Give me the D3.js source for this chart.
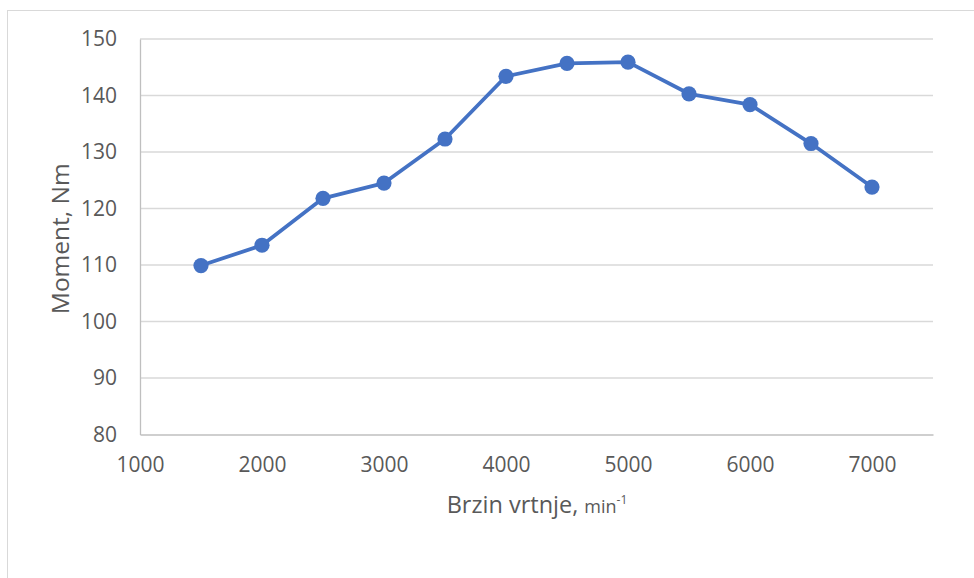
<!DOCTYPE html>
<html>
<head>
<meta charset="utf-8">
<script src="https://cdn.jsdelivr.net/npm/d3@7"></script>
<style>
  html, body { margin: 0; padding: 0; background: #fff; }
  svg { display: block; }
  text { font-family: "Open Sans", sans-serif; fill: #595959; }
</style>
</head>
<body>
<svg id="chart" width="974" height="578"></svg>
<script>
// Torque curve of the engine: speed (min^-1) vs. moment (Nm)
const speeds  = [1500, 2000, 2500, 3000, 3500, 4000, 4500, 5000, 5500, 6000, 6500, 7000];
const moments = [109.9, 113.5, 121.8, 124.5, 132.3, 143.4, 145.7, 145.9, 140.3, 138.4, 131.5, 123.8];
const xTicks  = [1000, 2000, 3000, 4000, 5000, 6000, 7000];
const yTicks  = [80, 90, 100, 110, 120, 130, 140, 150];

const svg = d3.select("#chart");
const W = 974, H = 578;
const plot = { left: 140, right: 933, top: 39, bottom: 434.5 };
const tickFont = "21px";

// chart area frame
svg.append("rect")
  .attr("x", 7.5).attr("y", 10.5)
  .attr("width", W + 10).attr("height", H + 10)
  .attr("fill", "#fff").attr("stroke", "#d9d9d9").attr("stroke-width", 1);

const x = d3.scaleLinear().domain([1000, 7500]).range([plot.left, plot.right]);
const y = d3.scaleLinear().domain([80, 150]).range([plot.bottom, plot.top]);

// horizontal gridlines
svg.append("g")
  .selectAll("line")
  .data(yTicks.filter(d => d > 80))
  .join("line")
  .attr("x1", plot.left).attr("x2", plot.right)
  .attr("y1", d => y(d)).attr("y2", d => y(d))
  .attr("stroke", "#d9d9d9").attr("stroke-width", 1.3);

// y axis
const yAxis = svg.append("g")
  .attr("transform", `translate(${plot.left},0)`)
  .call(d3.axisLeft(y).tickValues(yTicks).tickSize(0).tickPadding(23));
yAxis.select(".domain").attr("stroke", "#bfbfbf").attr("stroke-width", 1.3);
yAxis.selectAll("text").style("font-size", tickFont).attr("fill", "#595959")
  .style("font-family", '"Open Sans", sans-serif');

// x axis
const xAxis = svg.append("g")
  .attr("transform", `translate(0,${plot.bottom})`)
  .call(d3.axisBottom(x).tickValues(xTicks).tickSize(0).tickPadding(23).tickFormat(d3.format("d")));
xAxis.select(".domain").attr("stroke", "#bfbfbf").attr("stroke-width", 1.3);
xAxis.selectAll("text").style("font-size", tickFont).attr("fill", "#595959")
  .style("font-family", '"Open Sans", sans-serif');

// series line
const pts = speeds.map((s, i) => [s, moments[i]]);
svg.append("path")
  .datum(pts)
  .attr("fill", "none")
  .attr("stroke", "#4472c4")
  .attr("stroke-width", 3.8)
  .attr("stroke-linejoin", "round")
  .attr("d", d3.line().x(d => x(d[0])).y(d => y(d[1])));

// markers
svg.append("g")
  .selectAll("circle")
  .data(pts)
  .join("circle")
  .attr("cx", d => x(d[0])).attr("cy", d => y(d[1]))
  .attr("r", 7.6)
  .attr("fill", "#4472c4");

// axis titles
const xt = svg.append("text")
  .attr("x", (plot.left + plot.right) / 2 + 0.5)
  .attr("y", 513)
  .attr("text-anchor", "middle")
  .style("font-size", "23.5px");
xt.append("tspan").text("Brzin vrtnje, ");
xt.append("tspan").style("font-size", "18px").text("min");
xt.append("tspan").style("font-size", "12px").attr("dy", -9).text("-1");

svg.append("text")
  .attr("transform", `translate(69,${(plot.top + plot.bottom) / 2 + 2}) rotate(-90)`)
  .attr("text-anchor", "middle")
  .style("font-size", "24.5px")
  .text("Moment, Nm");
</script>
</body>
</html>
